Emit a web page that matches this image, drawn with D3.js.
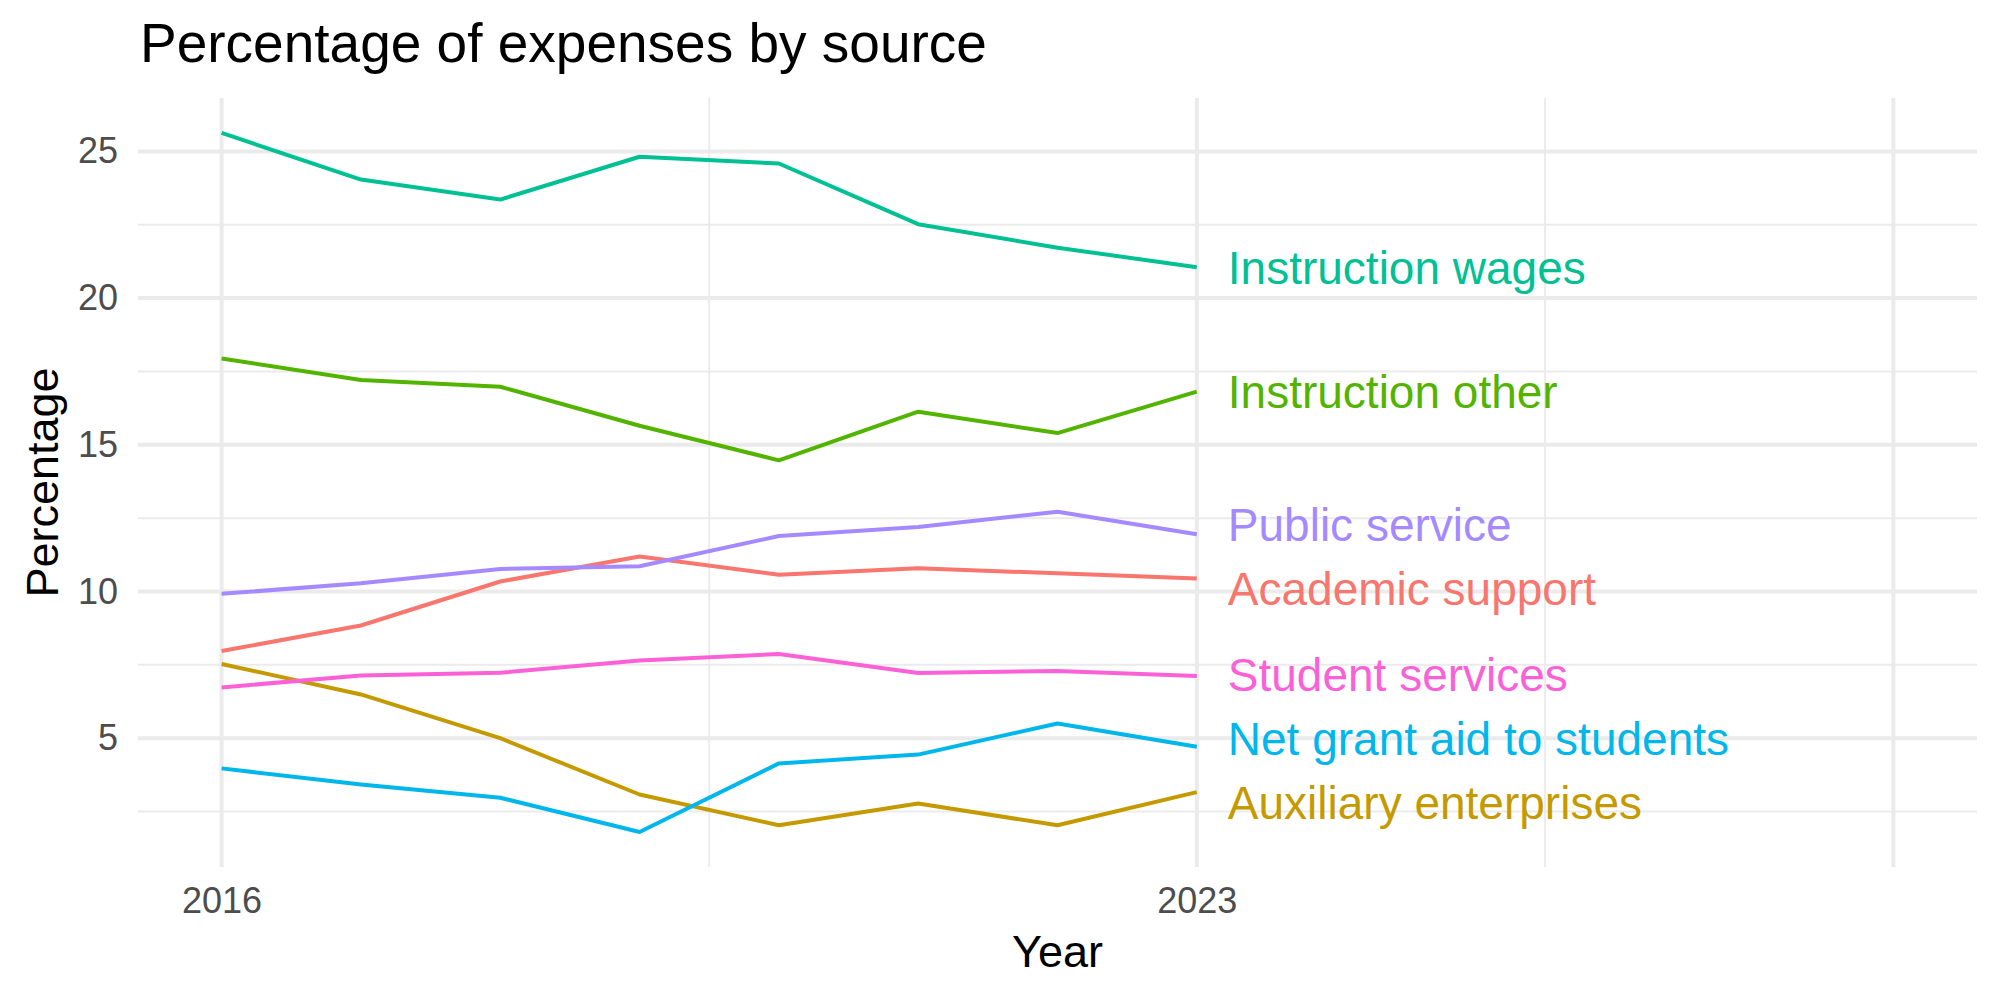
<!DOCTYPE html>
<html>
<head>
<meta charset="utf-8">
<script src="https://cdn.jsdelivr.net/npm/d3@7"></script>
<style>
  body { margin: 0; background: #fff; }
  text { font-family: "Liberation Sans", Arial, Helvetica, sans-serif; }
</style>
</head>
<body>
<div id="chart"></div>
<script>
// Chart data
const years = [2016, 2017, 2018, 2019, 2020, 2021, 2022, 2023];
const sources = ["Academic support", "Auxiliary enterprises", "Instruction other", "Instruction wages",
                 "Net grant aid to students", "Public service", "Student services"];
const academicSupport      = [7.97, 8.84, 10.34, 11.19, 10.57, 10.79, 10.62, 10.44];
const auxiliaryEnterprises = [7.53, 6.49, 5.00, 3.08, 2.03, 2.77, 2.03, 3.16];
const instructionOther     = [17.94, 17.21, 16.98, 15.65, 14.47, 16.13, 15.40, 16.81];
const instructionWages     = [25.63, 24.04, 23.36, 24.82, 24.59, 22.52, 21.72, 21.05];
const netGrantAid          = [3.97, 3.42, 2.97, 1.80, 4.14, 4.44, 5.50, 4.71];
const publicService        = [9.92, 10.28, 10.77, 10.86, 11.89, 12.20, 12.72, 11.95];
const studentServices      = [6.73, 7.14, 7.23, 7.65, 7.87, 7.22, 7.29, 7.12];
const seriesValues = [academicSupport, auxiliaryEnterprises, instructionOther, instructionWages,
                      netGrantAid, publicService, studentServices];
const colors = ["#F8766D", "#C49A00", "#53B400", "#00C094", "#00B6EB", "#A58AFF", "#FB61D7"];

// Axis setup
const xLimits = [2016, 2028];
const xBreaks = [2016, 2023, 2028];
const xTickLabels = ["2016", "2023", ""];
const xMinorBreaks = [2019.5, 2025.5];
const yBreaks = [5, 10, 15, 20, 25];
const yMinorBreaks = [2.5, 7.5, 12.5, 17.5, 22.5];

const W = 2000, H = 1000;
const panel = {left: 138, right: 1977, top: 98, bottom: 867};

const series = sources.map((name, i) => ({
    name: name,
    color: colors[i],
    values: years.map((y, j) => ({year: y, value: seriesValues[i][j]}))
}));

// ggplot-style 5% expansion
const expand = ([a, b]) => [a - (b - a) * 0.05, b + (b - a) * 0.05];
const allVals = seriesValues.flat();
const yExtent = [d3.min(allVals), d3.max(allVals)];

const xScale = d3.scaleLinear().domain(expand(xLimits)).range([panel.left, panel.right]);
const yScale = d3.scaleLinear().domain(expand(yExtent)).range([panel.bottom, panel.top]);

const svg = d3.select("#chart").append("svg")
    .attr("width", W).attr("height", H);

svg.append("rect").attr("width", W).attr("height", H).attr("fill", "#fff");

// Grid lines
const grid = svg.append("g").attr("class", "grid");
grid.selectAll(".ymin").data(yMinorBreaks).join("line")
    .attr("x1", panel.left).attr("x2", panel.right)
    .attr("y1", d => yScale(d)).attr("y2", d => yScale(d))
    .attr("stroke", "#EBEBEB").attr("stroke-width", 2);
grid.selectAll(".xmin").data(xMinorBreaks).join("line")
    .attr("x1", d => xScale(d)).attr("x2", d => xScale(d))
    .attr("y1", panel.top).attr("y2", panel.bottom)
    .attr("stroke", "#EBEBEB").attr("stroke-width", 2);
grid.selectAll(".ymaj").data(yBreaks).join("line")
    .attr("x1", panel.left).attr("x2", panel.right)
    .attr("y1", d => yScale(d)).attr("y2", d => yScale(d))
    .attr("stroke", "#EBEBEB").attr("stroke-width", 4);
grid.selectAll(".xmaj").data(xBreaks).join("line")
    .attr("x1", d => xScale(d)).attr("x2", d => xScale(d))
    .attr("y1", panel.top).attr("y2", panel.bottom)
    .attr("stroke", "#EBEBEB").attr("stroke-width", 4);

// Axis labels (no ticks, theme_minimal)
const yAxis = d3.axisLeft(yScale).tickValues(yBreaks).tickSize(0).tickPadding(20);
svg.append("g")
    .attr("transform", `translate(${panel.left},0)`)
    .call(yAxis)
    .call(g => g.select(".domain").remove())
    .call(g => g.selectAll("text")
        .attr("font-size", 36).attr("fill", "#4D4D4D")
        .attr("font-family", "Liberation Sans, Arial, sans-serif"));

const xAxis = d3.axisBottom(xScale).tickValues(xBreaks).tickSize(0).tickPadding(20)
    .tickFormat((d, i) => xTickLabels[i]);
svg.append("g")
    .attr("transform", `translate(0,${panel.bottom})`)
    .call(xAxis)
    .call(g => g.select(".domain").remove())
    .call(g => g.selectAll("text")
        .attr("font-size", 36).attr("fill", "#4D4D4D")
        .attr("font-family", "Liberation Sans, Arial, sans-serif"));

// Lines
const line = d3.line().x(d => xScale(d.year)).y(d => yScale(d.value));
svg.append("g").selectAll("path").data(series).join("path")
    .attr("d", d => line(d.values))
    .attr("fill", "none")
    .attr("stroke", d => d.color)
    .attr("stroke-width", 4)
    .attr("stroke-linejoin", "round");

// End labels, pushed apart a little so they don't overlap
const labels = series.map(s => {
    const last = s.values[s.values.length - 1];
    return {name: s.name, color: s.color, x: xScale(last.year) + 31, y: yScale(last.value)};
}).sort((a, b) => a.y - b.y);
const minGap = 64;
for (let iter = 0; iter < 200; iter++) {
    let moved = false;
    for (let i = 1; i < labels.length; i++) {
        const gap = labels[i].y - labels[i - 1].y;
        if (gap < minGap) {
            const shift = (minGap - gap) / 2;
            labels[i - 1].y -= shift;
            labels[i].y += shift;
            moved = true;
        }
    }
    if (!moved) break;
}
svg.append("g").selectAll("text").data(labels).join("text")
    .attr("x", d => d.x)
    .attr("y", d => d.y + 16.5)
    .attr("fill", d => d.color)
    .attr("font-size", 46)
    .text(d => d.name);

// Titles
svg.append("text")
    .attr("x", 140).attr("y", 62)
    .attr("font-size", 55).attr("fill", "#000")
    .text("Percentage of expenses by source");

svg.append("text")
    .attr("x", (panel.left + panel.right) / 2).attr("y", 967)
    .attr("text-anchor", "middle")
    .attr("font-size", 45).attr("fill", "#000")
    .text("Year");

svg.append("text")
    .attr("transform", `translate(58,${(panel.top + panel.bottom) / 2}) rotate(-90)`)
    .attr("text-anchor", "middle")
    .attr("font-size", 45).attr("fill", "#000")
    .text("Percentage");
</script>
</body>
</html>
